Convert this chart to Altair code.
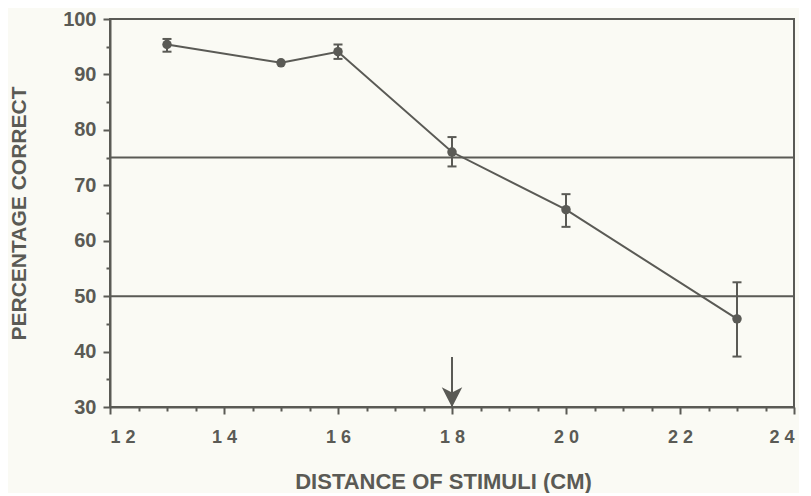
import json
import altair as alt
import pandas as pd

# ---- data ----
distance = [13, 15, 16, 18, 20, 23]
percent = [95.4, 92.1, 94.1, 76.0, 65.6, 45.9]
err_low = [94.1, 92.1, 92.8, 73.4, 62.5, 39.1]
err_high = [96.4, 92.1, 95.4, 78.7, 68.4, 52.5]

reference_levels = [75, 50]

arrow_distance = [18]
arrow_top = [39]
arrow_tip = [30]

x_major = [12, 14, 16, 18, 20, 22, 24]
x_labels = ["1 2", "1 4", "1 6", "1 8", "2 0", "2 2", "2 4"]
x_ticks = [12, 12.5, 13, 13.5, 14, 14.5, 15, 15.5, 16, 16.5, 17, 17.5, 18,
           18.5, 19, 19.5, 20, 20.5, 21, 21.5, 22, 22.5, 23, 23.5, 24]
y_ticks = [30, 35, 40, 45, 50, 55, 60, 65, 70, 75, 80, 85, 90, 95, 100]

INK = "#5a5a55"
BG = "#fafaf4"
FONT = "Liberation Sans"

df = pd.DataFrame({"d": distance, "p": percent, "lo": err_low, "hi": err_high})
ref_df = pd.DataFrame({"level": reference_levels})
arrow_df = pd.DataFrame({"d": arrow_distance, "top": arrow_top, "tip": arrow_tip})

x_label_expr = (
    f"indexof({json.dumps(x_major)}, datum.value) >= 0 ? "
    f"{json.dumps(x_labels)}[indexof({json.dumps(x_major)}, datum.value)] : ''"
)

x_axis = alt.Axis(
    values=x_ticks,
    labelExpr=x_label_expr,
    tickSize={"condition": {"test": "datum.value % 2 === 0", "value": 7}, "value": 4},
    labelPadding=14,
    labelFontSize=18,
    title="DISTANCE OF STIMULI (CM)",
    titleFontSize=22,
    titleX=333,
    titleY=81,
    titleBaseline="alphabetic",
    grid=False,
)
y_axis = alt.Axis(
    values=y_ticks,
    labelExpr="datum.value % 10 === 0 ? datum.label : ''",
    tickSize={"condition": {"test": "datum.value % 10 === 0", "value": 7}, "value": 4},
    labelPadding=7,
    labelFontSize=20,
    title="PERCENTAGE CORRECT",
    titleFontSize=21,
    titleX=-91,
    titleY=194,
    titleAngle=-90,
    titleAlign="center",
    titleBaseline="middle",
    grid=False,
)

x_enc = alt.X("d:Q", scale=alt.Scale(domain=[12, 24], nice=False, zero=False), axis=x_axis)
y_scale = alt.Scale(domain=[30, 100], nice=False, zero=False)

base = alt.Chart(df)

refs = alt.Chart(ref_df).mark_rule(color=INK, strokeWidth=2).encode(
    y=alt.Y("level:Q", scale=y_scale, axis=y_axis)
)

line = base.mark_line(color=INK, strokeWidth=2).encode(
    x=x_enc, y=alt.Y("p:Q", scale=y_scale, axis=y_axis)
)

bars = base.mark_rule(color=INK, strokeWidth=2).encode(
    x=x_enc, y=alt.Y("lo:Q", scale=y_scale, axis=y_axis), y2="hi:Q"
)

caps_lo = base.transform_filter("datum.hi > datum.lo").mark_tick(
    color=INK, orient="horizontal", size=9, thickness=2, opacity=1
).encode(x=x_enc, y=alt.Y("lo:Q", scale=y_scale, axis=y_axis))

caps_hi = base.transform_filter("datum.hi > datum.lo").mark_tick(
    color=INK, orient="horizontal", size=9, thickness=2, opacity=1
).encode(x=x_enc, y=alt.Y("hi:Q", scale=y_scale, axis=y_axis))

points = base.mark_point(filled=True, color=INK, size=90, opacity=1).encode(
    x=x_enc, y=alt.Y("p:Q", scale=y_scale, axis=y_axis)
)

arrow_shaft = alt.Chart(arrow_df).mark_rule(color=INK, strokeWidth=2).encode(
    x=x_enc, y=alt.Y("top:Q", scale=y_scale, axis=y_axis), y2="tip:Q"
)

arrow_head = alt.Chart(arrow_df).mark_point(
    shape="M0,1L-1,-0.95L0,-0.45L1,-0.95Z", filled=True, color=INK, size=420,
    opacity=1, yOffset=-10
).encode(x=x_enc, y=alt.Y("tip:Q", scale=y_scale, axis=y_axis))

chart = alt.layer(
    refs, line, bars, caps_lo, caps_hi, points, arrow_shaft, arrow_head
).properties(
    width=684,
    height=388,
    autosize=alt.AutoSizeParams(type="none"),
    padding={"left": 102, "top": 11, "right": 5, "bottom": 86},
    background=BG,
).configure_view(
    stroke=INK, strokeWidth=2
).configure_axis(
    domainColor=INK,
    domainWidth=2,
    tickColor=INK,
    tickWidth=2,
    labelColor=INK,
    labelFont=FONT,
    labelFontWeight="bold",
    titleColor=INK,
    titleFont=FONT,
    titleFontWeight="bold",
)

chart.save("out.html", embed_options={"renderer": "svg", "actions": False})
